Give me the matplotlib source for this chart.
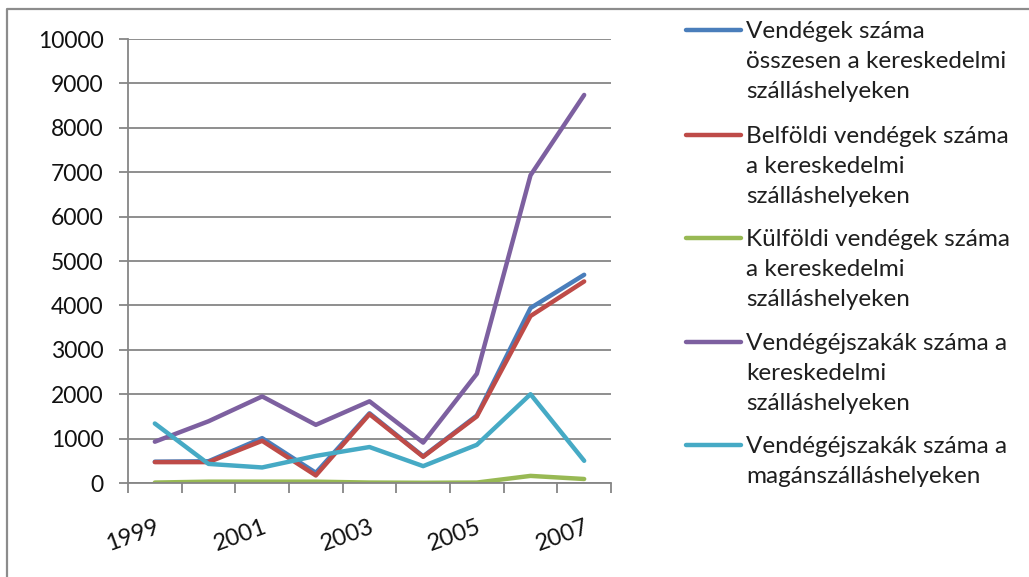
import numpy as np
import matplotlib
matplotlib.use('Agg')
import matplotlib.pyplot as plt
from matplotlib.lines import Line2D

# adatok
years = ['1999', '2000', '2001', '2002', '2003', '2004', '2005', '2006', '2007']
vendegek_osszes = [480, 490, 1010, 230, 1570, 600, 1520, 3940, 4690]
belfoldi = [470, 470, 950, 170, 1550, 590, 1500, 3760, 4540]
kulfoldi = [10, 30, 30, 30, 10, 5, 10, 160, 90]
ejszakak_ker = [930, 1390, 1950, 1310, 1840, 910, 2460, 6930, 8740]
ejszakak_magan = [1340, 430, 350, 610, 810, 380, 860, 2000, 500]

series = [
    (vendegek_osszes, 'Vendégek száma\nösszesen a kereskedelmi\nszálláshelyeken', '#4A7EBB'),
    (belfoldi, 'Belföldi vendégek száma\na kereskedelmi\nszálláshelyeken', '#BE4B48'),
    (kulfoldi, 'Külföldi vendégek száma\na kereskedelmi\nszálláshelyeken', '#98B954'),
    (ejszakak_ker, 'Vendégéjszakák száma a\nkereskedelmi\nszálláshelyeken', '#7D60A0'),
    (ejszakak_magan, 'Vendégéjszakák száma a\nmagánszálláshelyeken', '#46AAC5'),
]

W, H = 1029, 577
plt.rcParams['font.family'] = ['Lato', 'DejaVu Sans']
fig = plt.figure(figsize=(W / 100, H / 100), dpi=100)

# plot terület pixelben
left, right, top, bottom = 128, 611, 39, 483
ax = fig.add_axes([left / W, 1 - bottom / H, (right - left) / W, (bottom - top) / H])

x = np.arange(len(years))
for vals, name, col in series:
    ax.plot(x, vals, color=col, lw=3.2, solid_capstyle='round', solid_joinstyle='round')

grid_col = '#868686'
ax.set_xlim(-0.5, len(years) - 0.5)
ax.set_ylim(0, 10000)
ax.set_yticks(np.arange(0, 10001, 1000))
ax.yaxis.grid(True, color=grid_col, lw=1.3)
ax.set_axisbelow(True)
for s in ['top', 'right']:
    ax.spines[s].set_visible(False)
for s in ['left', 'bottom']:
    ax.spines[s].set_color(grid_col)
    ax.spines[s].set_linewidth(1.3)

ax.tick_params(axis='y', length=6.5, width=1.3, color=grid_col, pad=11,
               labelsize=16.5, labelcolor='#111111')

# x tengely: osztások a kategóriák határán, címkék minden második évnél
ax.set_xticks(np.arange(-0.5, len(years)))
ax.set_xticklabels([])
ax.tick_params(axis='x', which='major', length=7, width=1.3, color=grid_col)
ax.set_xticks(x[::2], minor=True)
ax.set_xticklabels(years[::2], minor=True, rotation=20, ha='right', va='top',
                   rotation_mode='anchor', fontsize=17, color='#111111')
ax.tick_params(axis='x', which='minor', length=0, pad=24)

# jelmagyarázat
first_handle_y = [30, 135, 238, 342, 445]
for (vals, name, col), hy in zip(series, first_handle_y):
    fig.add_artist(Line2D([686 / W, 741 / W], [1 - hy / H, 1 - hy / H],
                          color=col, lw=3.2, solid_capstyle='round'))
    for i, line in enumerate(name.split('\n')):
        fig.text(746 / W, 1 - (hy + 8 + i * 30) / H, line, fontsize=17.5,
                 color='#1f1f1f', ha='left', va='baseline')

# keret
fig.add_artist(Line2D([7 / W, 7 / W, 1], [0, 1 - 9 / H, 1 - 9 / H],
                      color='#8c8c8c', lw=1.6))

fig.savefig('out.png', dpi=100)
